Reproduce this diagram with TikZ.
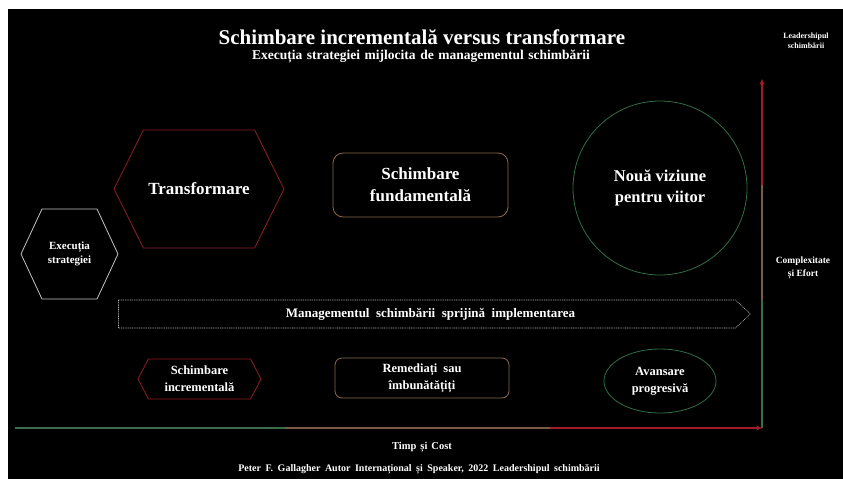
\documentclass[tikz,border=0pt]{standalone}
\usepackage{fontspec}
\setmainfont{Liberation Serif}
\usetikzlibrary{shapes.geometric,shapes.symbols,arrows.meta}

\definecolor{hexred}{HTML}{8E1E22}
\definecolor{hexgray}{HTML}{C4C4C4}
\definecolor{boxtan}{HTML}{8C6A4C}
\definecolor{ringgreen}{HTML}{2F6E48}
\definecolor{axisred}{HTML}{A01C26}
\definecolor{axistan}{HTML}{7A5A48}
\definecolor{axisgreen}{HTML}{3A6B4A}
\definecolor{barline}{HTML}{B0B0B0}

\newcommand{\fs}[2]{\bfseries\fontsize{#1}{#2}\selectfont}
\newcommand{\wsp}[1]{\spaceskip=#1 plus 1pt\relax}

\begin{document}
\begin{tikzpicture}[x=1pt,y=-1pt,
  txt/.style={text=white,align=center,inner sep=0pt},
  hexa/.style={shape=signal,signal to=west and east,line width=0.8pt,txt},
  rbox/.style={draw=boxtan,line width=0.8pt,txt},
  ring/.style={draw=ringgreen,line width=0.8pt,txt},
  axisline/.style={line width=1.2pt},
  axistip/.style={-{Stealth[length=6pt,width=5pt]}}]

% page and dark canvas
\useasboundingbox (0,0) rectangle (843,479);
\fill[white] (0,0) rectangle (843,479);
\fill[black] (8,9) rectangle (843,479);

% headings
\node[txt,font=\fs{21}{24}] (title) at (422,37) {Schimbare incrementală versus transformare};
\node[txt,font={\fs{13.5}{16}\wsp{4.6pt}}] (subtitle) at (421,56) {Execuția strategiei mijlocita de managementul schimbării};

% upper row
\node[hexa,draw=hexgray,signal pointer angle=130,minimum width=97,minimum height=90,font=\fs{11}{14}] (exec) at (69.5,254) {Execuția\\strategiei};
\node[hexa,draw=hexred,signal pointer angle=127,minimum width=170,minimum height=118,font=\fs{17}{21}] (trans) at (199,189) {Transformare};
\node[rbox,rounded corners=10pt,minimum width=175,minimum height=64,font=\fs{17}{22}] (fund) at (420.5,185) {Schimbare\\fundamentală};
\node[ring,circle,minimum size=174,font=\fs{16.5}{21}] (vision) at (660,188) {Nouă viziune\\pentru viitor};

% change-management band
\node[shape=signal,signal to=east,signal from=nowhere,signal pointer angle=86,
      draw=barline,line width=0.6pt,dash pattern=on 1pt off 0.8pt,txt,
      minimum width=632,minimum height=28,font={\fs{13}{15}\wsp{6.5pt}}] (mgmt) at (427,314)
      {\hspace{7pt}Managementul schimbării sprijină implementarea};

% lower row
\node[hexa,draw=hexred,signal pointer angle=125,minimum width=123,minimum height=40,font=\fs{12.5}{17}] (incr) at (199.5,379) {Schimbare\\incrementală};
\node[rbox,rounded corners=7pt,minimum width=174,minimum height=40,font={\fs{12.5}{17}\wsp{6pt}}] (fix) at (422,378) {Remediați sau\\îmbunătățiți};
\node[ring,ellipse,minimum width=112,minimum height=64,font=\fs{12.5}{17}] (prog) at (660,381) {Avansare\\progresivă};

% axes
\coordinate (origin) at (762,428);
\coordinate (xstart) at (15,428);
\coordinate (xa) at (285,428);
\coordinate (xb) at (550,428);
\coordinate (ya) at (762,300);
\coordinate (yb) at (762,185);
\coordinate (ytop) at (762,79);
\draw[axisline,axisgreen] (xstart) -- (xa);
\draw[axisline,axistan] (xa) -- (xb);
\draw[axisline,axisred,axistip] (xb) -- (origin);
\draw[axisline,axisgreen] (origin) -- (ya);
\draw[axisline,axistan] (ya) -- (yb);
\draw[axisline,axisred,axistip] (yb) -- (ytop);

% axis labels
\node[txt,font=\fs{8}{10}] (lead) at (806,41) {Leadershipul\\schimbării};
\node[txt,font=\fs{9.5}{12.5}] (effort) at (803,268) {Complexitate\\și Efort};
\node[txt,font={\fs{10.5}{12}\wsp{4pt}}] (time) at (422,447) {Timp și Cost};

% footer
\node[txt,font={\fs{10}{11}\wsp{4.5pt}}] (credit) at (419,469) {Peter F. Gallagher Autor Internațional și Speaker, 2022 Leadershipul schimbării};
\end{tikzpicture}
\end{document}
